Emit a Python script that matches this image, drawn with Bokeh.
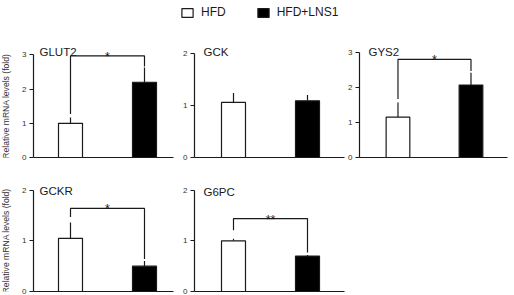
import numpy as np
from bokeh.plotting import figure
from bokeh.models import (ColumnDataSource, FixedTicker, Label, Legend, LegendItem, Range1d)
from bokeh.layouts import column, row
from bokeh.embed import file_html
from bokeh.resources import INLINE
from bokeh.core.properties import value

# ---------------- data ----------------
genes = ["GLUT2", "GCK", "GYS2", "GCKR", "G6PC"]
groups = ["HFD", "HFD+LNS1"]
hfd_mean = [1.00, 1.06, 1.15, 1.05, 1.00]
hfd_err = [0.17, 0.18, 0.42, 0.31, 0.04]
lns_mean = [2.20, 1.09, 2.07, 0.50, 0.70]
lns_err = [0.43, 0.11, 0.35, 0.10, 0.02]
y_max = [3, 2, 3, 2, 2]
sig_label = ["*", "", "*", "*", "**"]
bracket_y = [2.97, None, 2.80, 1.64, 1.44]
bracket_left_end = [1.27, None, 1.67, 1.47, 1.21]
bracket_right_end = [2.66, None, 2.47, 0.64, 0.77]
y_label = "Relative mRNA levels (fold)"

# ---------------- style ----------------
FONT = "Liberation Sans"
INK = "#1a1a1a"
PX_PER_X = 74.0
BAR_W = 24.0 / PX_PER_X
LABEL_W = 13


def base_fig(width, height, x_range, y_range, left, right, top, bottom):
    p = figure(width=width, height=height, output_backend="svg", toolbar_location=None,
               title=None, x_range=x_range, y_range=y_range,
               min_border_left=left, min_border_right=right,
               min_border_top=top, min_border_bottom=bottom)
    p.outline_line_color = None
    p.xgrid.visible = False
    p.ygrid.visible = False
    p.background_fill_color = "white"
    p.border_fill_color = "white"
    return p


def ylabel_fig(i, height, top, bottom, y_end):
    p = figure(width=LABEL_W, height=height, output_backend="svg", toolbar_location=None,
               title=None, x_range=Range1d(0, LABEL_W), y_range=Range1d(0, y_end),
               x_axis_location=None, y_axis_location=None,
               min_border_left=0, min_border_right=0,
               min_border_top=top, min_border_bottom=bottom)
    p.outline_line_color = None
    p.xgrid.visible = False
    p.ygrid.visible = False
    p.text(x=[5.5], y=[y_max[i] / 2.0], text=[y_label], angle=np.pi / 2,
           text_align="center", text_baseline="middle", text_font=value(FONT),
           text_font_size="8.6px", text_color="#333333")
    return p


def panel(i, width, height, left, right, top, bottom, y_end, first_offset,
          title_dx, title_y):
    frame_w = width - left - right
    x0 = 1 - first_offset / PX_PER_X
    p = base_fig(width, height, Range1d(x0, x0 + frame_w / PX_PER_X), Range1d(0, y_end),
                 left, right, top, bottom)

    xa = p.xaxis[0]
    xa.ticker = FixedTicker(ticks=[])
    xa.major_tick_line_color = None
    xa.minor_tick_line_color = None
    xa.major_label_text_font_size = "0px"
    xa.axis_line_color = INK
    xa.axis_line_width = 1.2

    ya = p.yaxis[0]
    ya.ticker = FixedTicker(ticks=list(range(y_max[i] + 1)))
    ya.bounds = (0, y_max[i])
    ya.major_tick_in = 0
    ya.major_tick_out = 4
    ya.minor_tick_line_color = None
    ya.major_tick_line_color = INK
    ya.axis_line_color = INK
    ya.axis_line_width = 1.2
    ya.major_label_text_font = FONT
    ya.major_label_text_font_size = "8px"
    ya.major_label_text_color = "#333333"
    ya.major_label_standoff = 3

    src = ColumnDataSource(dict(
        x=[1, 2],
        top=[hfd_mean[i], lns_mean[i]],
        err_top=[hfd_mean[i] + hfd_err[i], lns_mean[i] + lns_err[i]],
        fill=["white", "black"],
    ))
    p.segment(x0="x", y0="top", x1="x", y1="err_top", source=src,
              line_color=INK, line_width=1.2)
    p.vbar(x="x", top="top", width=BAR_W, source=src, fill_color="fill",
           line_color=INK, line_width=1.2)

    if bracket_y[i] is not None:
        by = bracket_y[i]
        p.multi_line(xs=[[1, 1, 2, 2]],
                     ys=[[bracket_left_end[i], by, by, bracket_right_end[i]]],
                     line_color=INK, line_width=1.2)
        p.text(x=[1.5], y=[by], text=[sig_label[i]], text_align="center",
               text_baseline="alphabetic", text_font=value(FONT),
               text_font_size="12.5px", text_color=INK, y_offset=1)

    p.add_layout(Label(x=title_dx, y=title_y, x_units="screen", y_units="screen",
                       text=genes[i], text_font=FONT, text_font_size="11.5px",
                       text_color=INK, text_baseline="alphabetic"))
    return p


# legend strip
pl = figure(width=514, height=35, output_backend="svg", toolbar_location=None, title=None,
            x_axis_location=None, y_axis_location=None, min_border=0,
            x_range=Range1d(0, 1), y_range=Range1d(0, 1))
pl.outline_line_color = None
pl.xgrid.visible = False
pl.ygrid.visible = False
r_hfd = pl.vbar(x=[0.5], top=[1], width=0.1, fill_color="white", line_color=INK,
                line_width=1.2, visible=False)
r_lns = pl.vbar(x=[0.5], top=[1], width=0.1, fill_color="black", line_color=INK,
                line_width=1.2, visible=False)
leg = Legend(items=[LegendItem(label=groups[0], renderers=[r_hfd]),
                    LegendItem(label=groups[1], renderers=[r_lns])],
             orientation="horizontal", location=(180, 16),
             glyph_width=14, glyph_height=11, label_standoff=7, spacing=30,
             padding=0, margin=0, border_line_color=None, background_fill_alpha=0,
             inactive_fill_alpha=0,
             label_text_font=FONT, label_text_font_size="12px", label_text_color=INK)
pl.add_layout(leg)

l1 = ylabel_fig(0, 135, 5, 13, 3.42)
p1 = panel(0, 175 - LABEL_W, 135, 33 - LABEL_W, 2, 5, 13, 3.42, 37, 6, 105.5)
p2 = panel(1, 170, 135, 19, 1, 5, 13, 2.25, 39, 9, 105.5)
p3 = panel(2, 169, 135, 12, 7, 5, 13, 3.34, 39, 9, 106)
l4 = ylabel_fig(3, 125, 8, 4, 2.23)
p4 = panel(3, 175 - LABEL_W, 125, 33 - LABEL_W, 2, 8, 4, 2.23, 37, 6, 100.5)
p5 = panel(4, 170, 125, 19, 1, 8, 4, 2.23, 39, 9, 100)

layout = column(pl, row(l1, p1, p2, p3), row(l4, p4, p5))

open("out.html", "w").write(file_html(layout, INLINE))
